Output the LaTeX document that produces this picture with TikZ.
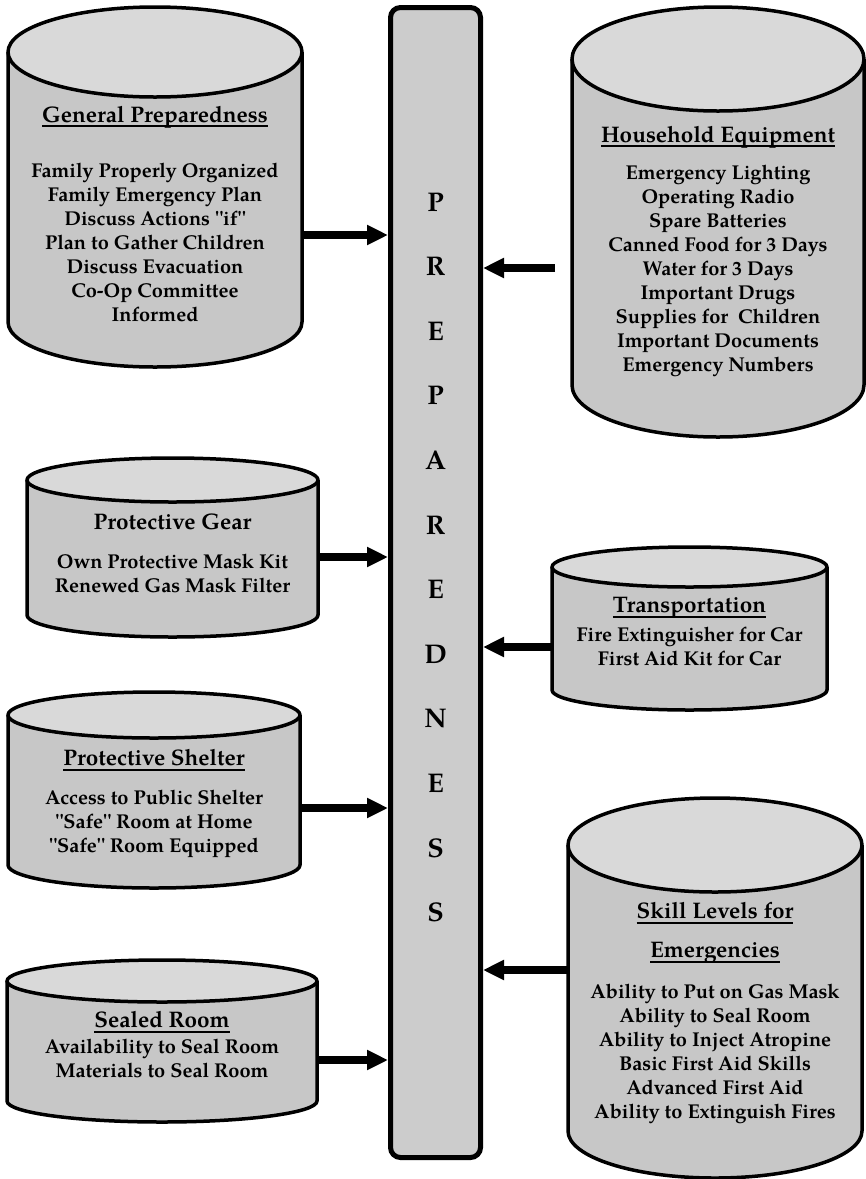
\documentclass[tikz,border=0pt]{standalone}
\usepackage{fontspec}
\setmainfont{texgyrepagella}[Extension=.otf, UprightFont=*-regular, BoldFont=*-bold, ItalicFont=*-italic, BoldItalicFont=*-bolditalic]
\usetikzlibrary{arrows.meta}

\definecolor{bodygray}{gray}{0.78}
\definecolor{topgray}{gray}{0.85}
\definecolor{bargray}{gray}{0.80}

\tikzset{
  outline/.style={line width=3.5pt, draw=black, line join=round},
  heading/.style={font=\fontsize{22.5}{24}\selectfont\bfseries, align=center, inner sep=0pt},
  items/.style={font=\fontsize{20}{24}\selectfont\bfseries, align=center, inner sep=0pt},
  feed/.style={line width=7.5pt, -{Triangle[length=21pt,width=19pt]}},
  barbox/.style={draw, line width=5pt, rounded corners=10pt, fill=bargray,
    minimum width=90pt, minimum height=1150pt, inner sep=0pt},
  letter/.style={font=\fontsize{27}{27}\selectfont\bfseries, inner sep=0pt}
}

% underlined heading text
\newcommand\undl[1]{\leavevmode\setbox0\hbox{#1}\rlap{\rule[-5pt]{\wd0}{1.8pt}}\box0}
% straight double quote mark
\newcommand\dq{\textquotedbl}

% drum: centre x, top-ellipse centre y, bottom-ellipse centre y, x radius, y radius
\newcommand\drum[5]{%
  \fill[bodygray] (#1-#4,#2) -- (#1-#4,#3)
    arc[start angle=180, end angle=360, x radius=#4pt, y radius=#5pt] -- (#1+#4,#2) -- cycle;
  \draw[outline] (#1-#4,#2) -- (#1-#4,#3)
    arc[start angle=180, end angle=360, x radius=#4pt, y radius=#5pt] -- (#1+#4,#2);
  \draw[outline, fill=topgray] (#1,#2) ellipse[x radius=#4pt, y radius=#5pt];
}

\begin{document}
\begin{tikzpicture}[x=1pt, y=-1pt]
\useasboundingbox[fill=white] (0,0) rectangle (866,1179);

% central column
\node[barbox] (bar) at (435.5,582.5) {};
\foreach \l [count=\i] in {P,R,E,P,A,R,E,D,N,E,S,S}
  \node[letter] (bar-\i) at (435.5,{202+64.6*(\i-1)}) {\l};

% General Preparedness
\drum{155}{52}{322}{147}{45}
\node[heading] (gp-title) at (155,117) {\undl{General Preparedness}};
\node[items] (gp-list) at (155,242) {Family Properly Organized\\Family Emergency Plan\\Discuss Actions \dq if\dq\\Plan to Gather Children\\Discuss Evacuation\\Co-Op Committee\\Informed};
\coordinate (gp-out) at (302,235);

% Household Equipment
\drum{718}{59}{385}{146}{52}
\node[heading] (he-title) at (718,137) {\undl{Household Equipment}};
\node[items] (he-list) at (718,271) {Emergency Lighting\\Operating Radio\\Spare Batteries\\Canned Food for 3 Days\\Water for 3 Days\\Important Drugs\\Supplies for~ Children\\Important Documents\\Emergency Numbers};
\coordinate (he-out) at (555,268);

% Protective Gear
\drum{172.5}{480}{615}{145.5}{22}
\node[heading] (pg-title) at (172.5,522) {Protective Gear};
\node[items] (pg-list) at (172.5,573) {Own Protective Mask Kit\\Renewed Gas Mask Filter};
\coordinate (pg-out) at (318,557);

% Transportation
\drum{689.5}{567}{690}{137.5}{20}
\node[heading] (tr-title) at (689.5,608) {\undl{Transportation}};
\node[items] (tr-list) at (689.5,646.5) {Fire Extinguisher for Car\\First Aid Kit for Car};
\coordinate (tr-out) at (552,647);

% Protective Shelter
\drum{154}{715}{865}{146}{23}
\node[heading] (ps-title) at (154,760) {\undl{Protective Shelter}};
\node[items] (ps-list) at (154,824) {Access to Public Shelter\\\dq Safe\dq\ Room at Home\\\dq Safe\dq\ Room Equipped};
\coordinate (ps-out) at (300,808);

% Skill Levels for Emergencies
\drum{715}{845}{1131}{147}{47}
\node[heading] (sk-title1) at (715,913) {\undl{Skill Levels for}};
\node[heading] (sk-title2) at (715,953) {\undl{Emergencies}};
\node[items] (sk-list) at (715,1053.5) {Ability to Put on Gas Mask\\Ability to Seal Room\\Ability to Inject Atropine\\Basic First Aid Skills\\Advanced First Aid\\Ability to Extinguish Fires};
\coordinate (sk-out) at (568,970);

% Sealed Room
\drum{162}{981}{1101}{155}{21}
\node[heading] (sr-title) at (162,1022) {\undl{Sealed Room}};
\node[items] (sr-list) at (162,1058.5) {Availability to Seal Room\\Materials to Seal Room};
\coordinate (sr-out) at (317,1060);

% feeders into the column
\draw[feed] (gp-out) -- (gp-out -| bar.west);
\draw[feed] (pg-out) -- (pg-out -| bar.west);
\draw[feed] (ps-out) -- (ps-out -| bar.west);
\draw[feed] (sr-out) -- (sr-out -| bar.west);
\draw[feed] (he-out) -- (he-out -| bar.east);
\draw[feed] (tr-out) -- (tr-out -| bar.east);
\draw[feed] (sk-out) -- (sk-out -| bar.east);
\end{tikzpicture}
\end{document}
